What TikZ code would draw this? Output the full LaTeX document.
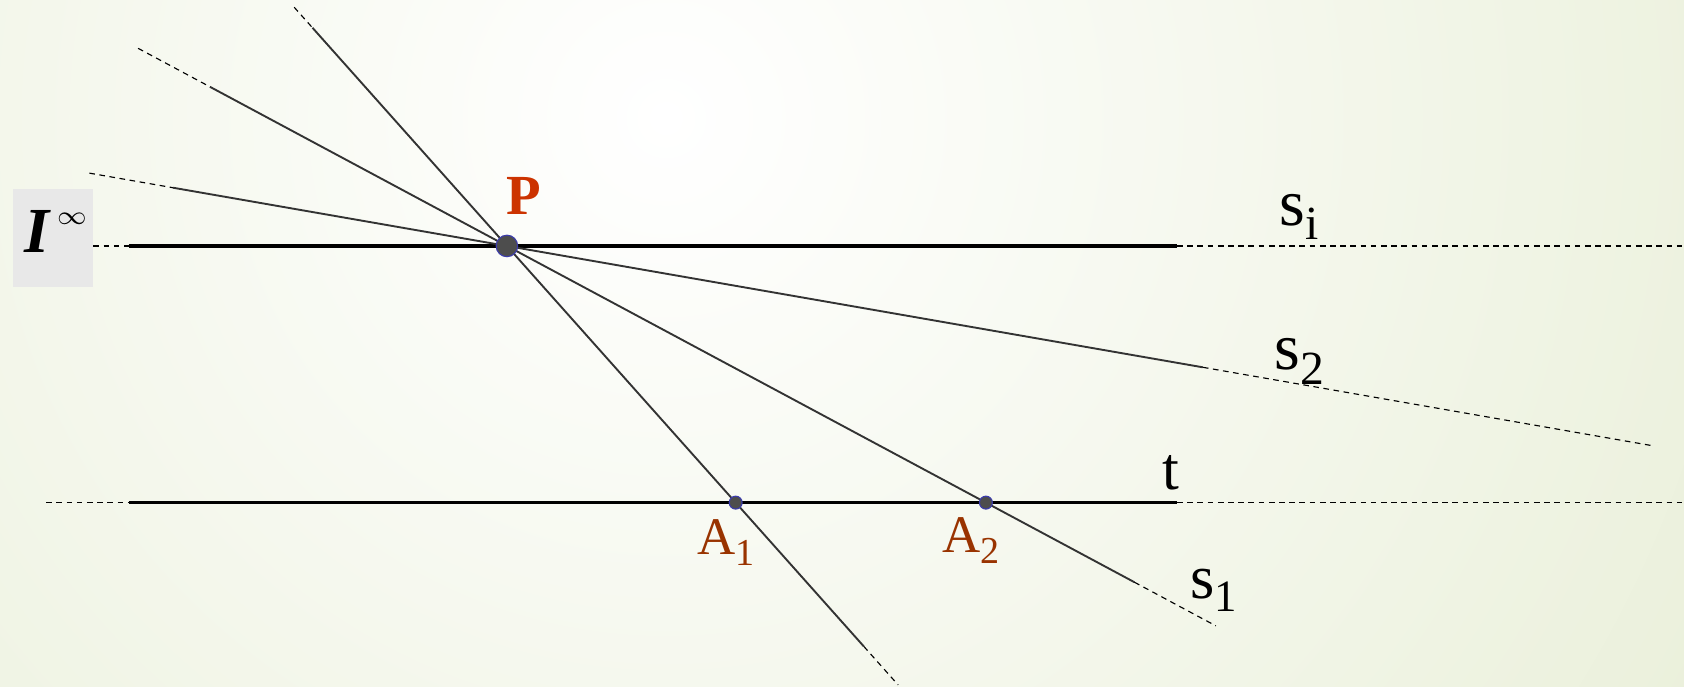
\documentclass[tikz,border=0pt]{standalone}
\usepackage{fontspec}
\setmainfont{Liberation Serif}
\usetikzlibrary{calc}

\definecolor{bggreen}{RGB}{218,228,190}
\definecolor{linegray}{RGB}{51,51,51}
\definecolor{pred}{RGB}{204,51,0}
\definecolor{abrown}{RGB}{153,51,0}
\definecolor{ptfill}{RGB}{77,77,77}
\definecolor{ptedge}{RGB}{60,60,170}
\definecolor{boxgray}{RGB}{232,232,232}

\newcommand{\lsub}[1]{\raisebox{-0.22em}{\scalebox{0.72}{#1}}}

\tikzset{
  ray/.style={draw=linegray, line width=0.5pt},
  axisline/.style={draw=black, line width=0.9pt},
  faint/.style={draw=black, line width=0.3pt, dash pattern=on 1.5pt off 1.2pt},
  ptbig/.style={circle, fill=ptfill, draw=ptedge, line width=0.3pt, inner sep=0pt, minimum size=0.2cm},
  ptsmall/.style={ptbig, minimum size=0.12cm},
  lbl/.style={anchor=base west, inner sep=0pt, font=\fontsize{16}{18}\selectfont},
}

\begin{document}
\begin{tikzpicture}[x=0.01cm, y=-0.01cm]
\useasboundingbox (0,0) rectangle (1568,639);
\begin{scope}
\clip (0,0) rectangle (1568,639);
\shade[inner color=white, outer color=bggreen] (620,110) circle [radius=20cm];
\end{scope}

\coordinate (P) at (472,229);
\coordinate (A1) at (685,468);
\coordinate (A2) at (918,468);
\coordinate (S2) at (1120,342);
\coordinate (IL) at (120,229);
\coordinate (IR) at (1096,229);
\coordinate (TL) at (120,468);
\coordinate (TR) at (1096,468);

% the line at infinity and t
\draw[faint] (87,229) -- (IL);
\draw[axisline] (IL) -- (IR);
\draw[faint] (IR) -- (1568,229);
\draw[faint] (43,468) -- (TL);
\draw[axisline] (TL) -- (TR);
\draw[faint] (TR) -- (1568,468);

% rays through P
\draw[faint] ($(P)!-0.93!(A1)$) -- ($(P)!-0.85!(A1)$);
\draw[ray] ($(P)!-0.85!(A1)$) -- ($(P)!1.56!(A1)$);
\draw[faint] ($(P)!1.56!(A1)$) -- ($(P)!1.71!(A1)$);

\draw[faint] ($(P)!-0.77!(A2)$) -- ($(P)!-0.62!(A2)$);
\draw[ray] ($(P)!-0.62!(A2)$) -- ($(P)!1.31!(A2)$);
\draw[faint] ($(P)!1.31!(A2)$) -- ($(P)!1.48!(A2)$);

\draw[faint] ($(P)!-0.60!(S2)$) -- ($(P)!-0.48!(S2)$);
\draw[ray] ($(P)!-0.48!(S2)$) -- (S2);
\draw[faint] (S2) -- ($(P)!1.648!(S2)$);

% points
\node[ptbig] (Pdot) at (P) {};
\node[ptsmall] (A1dot) at (A1) {};
\node[ptsmall] (A2dot) at (A2) {};

% labels
\fill[boxgray] (12,176) rectangle (87,267);
\node[lbl, font=\fontsize{17}{20}\selectfont] (Ilbl) at (22,235.5)
  {\textbf{\textit{I}}\kern1.5pt\raisebox{7.4pt}{\fontsize{7.5}{8}\selectfont$\infty$}};
\node[lbl, text=pred, font=\fontsize{15}{17}\selectfont\bfseries] (Plbl) at (471,200) {P};
\node[lbl, text=abrown, font=\fontsize{14}{16}\selectfont] (A1lbl) at (649,516) {A\lsub{1}};
\node[lbl, text=abrown, font=\fontsize{14}{16}\selectfont] (A2lbl) at (877,514) {A\lsub{2}};
\node[lbl, font=\fontsize{17.5}{20}\selectfont] (silbl) at (1191,209.5) {s\lsub{i}};
\node[lbl, font=\fontsize{17.5}{20}\selectfont] (s2lbl) at (1186,344.5) {s\lsub{2}};
\node[lbl] (tlbl) at (1082,456) {t};
\node[lbl, font=\fontsize{16.5}{19}\selectfont] (s1lbl) at (1108,557) {s\lsub{1}};
\end{tikzpicture}
\end{document}
